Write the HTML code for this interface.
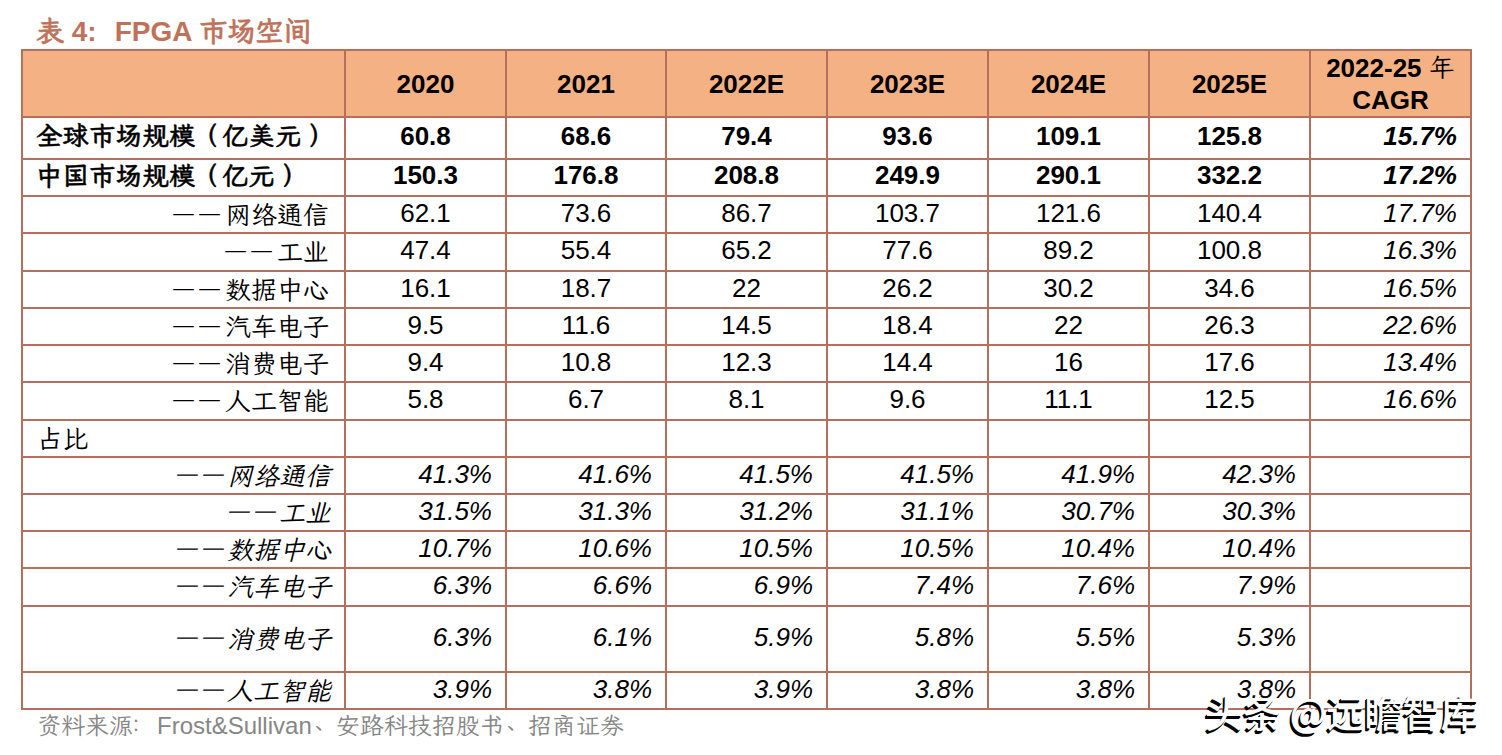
<!DOCTYPE html>
<html lang="zh-CN"><head><meta charset="utf-8"><title>表4 FPGA 市场空间</title>
<style>
html,body{margin:0;padding:0;background:#fff;}
body{width:1502px;height:755px;position:relative;overflow:hidden;}
.fill{position:absolute;background:#F4B183;}
.ln{position:absolute;background:#B4705C;}
.c{position:absolute;box-sizing:border-box;display:flex;align-items:center;white-space:nowrap;color:#000;line-height:1;}
.hb{font:bold 26px "Liberation Sans",Arial,sans-serif;}
.cg{display:block;text-align:center;line-height:32px;}
.kr{font-family:"LXGW WenKai TC","Noto Serif CJK SC",serif;font-weight:normal;}
.nb{font:bold 26px "Liberation Sans",Arial,sans-serif;}
.nbi{font:italic bold 26px "Liberation Sans",Arial,sans-serif;}
.n{font:26px "Liberation Sans",Arial,sans-serif;}
.ni{font:italic 26px "Liberation Sans",Arial,sans-serif;}
.kb{font:bold 26px "LXGW WenKai TC","Noto Serif CJK SC",serif;letter-spacing:0.6px;-webkit-text-stroke:0.5px #000;}
.k{font:26px "LXGW WenKai TC","Noto Serif CJK SC",serif;}
.ki{font:italic 26px "LXGW WenKai TC","Noto Serif CJK SC",serif;}
.title{position:absolute;left:36px;top:14px;font:bold 28px "Liberation Sans","LXGW WenKai TC","Noto Serif CJK SC",sans-serif;color:#C0715A;white-space:nowrap;line-height:34px;}
.title .k2{font-family:"LXGW WenKai TC","Noto Serif CJK SC",serif;-webkit-text-stroke:0.6px #C0715A;}
.lp{position:relative;left:-4px;}
.pc{position:relative;left:-9px;}
.pd{position:relative;left:-5px;top:3px;}
.dd{font-size:21px;letter-spacing:5px;position:relative;top:0px;}
.rp{position:relative;left:7px;}
.src{position:absolute;left:37px;top:709px;font:24px "Liberation Sans","LXGW WenKai TC","Noto Serif CJK SC",sans-serif;color:#868686;white-space:nowrap;line-height:32px;}
.src .k2{font-family:"LXGW WenKai TC","Noto Serif CJK SC",serif;}
.wm{position:absolute;left:1205px;top:689px;font:500 38px "Noto Sans CJK SC","Liberation Sans",sans-serif;color:#fff;white-space:nowrap;line-height:44px;text-shadow:-1px 2px 0 #000,-2px 3px 0 #000;}
</style></head><body>
<div class="title"><span class="k2">表</span> 4:<span style="display:inline-block;width:18px"></span>FPGA <span class="k2">市场空间</span></div>
<div class="fill" style="left:21px;top:49px;width:1451px;height:69px;"></div>
<div class="c hb" style="left:346px;top:52px;width:159px;height:65px;justify-content:center;">2020</div>
<div class="c hb" style="left:507px;top:52px;width:158px;height:65px;justify-content:center;">2021</div>
<div class="c hb" style="left:667px;top:52px;width:159px;height:65px;justify-content:center;">2022E</div>
<div class="c hb" style="left:828px;top:52px;width:159px;height:65px;justify-content:center;">2023E</div>
<div class="c hb" style="left:989px;top:52px;width:159px;height:65px;justify-content:center;">2024E</div>
<div class="c hb" style="left:1150px;top:52px;width:159px;height:65px;justify-content:center;">2025E</div>
<div class="c hb" style="left:1311px;top:51px;width:159px;height:65px;justify-content:center;"><span class="cg">2022-25 <span class="kr">年</span><br>CAGR</span></div>
<div class="c kb" style="left:23px;top:115px;width:321px;height:40px;justify-content:flex-start;padding-left:13px;">全球市场规模<span class="lp">（</span>亿美元<span class="rp">）</span></div>
<div class="c nb" style="left:346px;top:116px;width:159px;height:40px;justify-content:center;">60.8</div>
<div class="c nb" style="left:507px;top:116px;width:158px;height:40px;justify-content:center;">68.6</div>
<div class="c nb" style="left:667px;top:116px;width:159px;height:40px;justify-content:center;">79.4</div>
<div class="c nb" style="left:828px;top:116px;width:159px;height:40px;justify-content:center;">93.6</div>
<div class="c nb" style="left:989px;top:116px;width:159px;height:40px;justify-content:center;">109.1</div>
<div class="c nb" style="left:1150px;top:116px;width:159px;height:40px;justify-content:center;">125.8</div>
<div class="c nbi" style="left:1311px;top:116px;width:159px;height:40px;justify-content:flex-end;padding-right:13px;">15.7%</div>
<div class="c kb" style="left:23px;top:157px;width:321px;height:35px;justify-content:flex-start;padding-left:13px;">中国市场规模<span class="lp">（</span>亿元<span class="rp">）</span></div>
<div class="c nb" style="left:346px;top:158px;width:159px;height:35px;justify-content:center;">150.3</div>
<div class="c nb" style="left:507px;top:158px;width:158px;height:35px;justify-content:center;">176.8</div>
<div class="c nb" style="left:667px;top:158px;width:159px;height:35px;justify-content:center;">208.8</div>
<div class="c nb" style="left:828px;top:158px;width:159px;height:35px;justify-content:center;">249.9</div>
<div class="c nb" style="left:989px;top:158px;width:159px;height:35px;justify-content:center;">290.1</div>
<div class="c nb" style="left:1150px;top:158px;width:159px;height:35px;justify-content:center;">332.2</div>
<div class="c nbi" style="left:1311px;top:158px;width:159px;height:35px;justify-content:flex-end;padding-right:13px;">17.2%</div>
<div class="c k" style="left:23px;top:196px;width:321px;height:35px;justify-content:flex-end;padding-right:15px;"><span class="dd">——</span>网络通信</div>
<div class="c n" style="left:346px;top:195.5px;width:159px;height:35px;justify-content:center;">62.1</div>
<div class="c n" style="left:507px;top:195.5px;width:158px;height:35px;justify-content:center;">73.6</div>
<div class="c n" style="left:667px;top:195.5px;width:159px;height:35px;justify-content:center;">86.7</div>
<div class="c n" style="left:828px;top:195.5px;width:159px;height:35px;justify-content:center;">103.7</div>
<div class="c n" style="left:989px;top:195.5px;width:159px;height:35px;justify-content:center;">121.6</div>
<div class="c n" style="left:1150px;top:195.5px;width:159px;height:35px;justify-content:center;">140.4</div>
<div class="c ni" style="left:1311px;top:195.5px;width:159px;height:35px;justify-content:flex-end;padding-right:13px;">17.7%</div>
<div class="c k" style="left:23px;top:233px;width:321px;height:36px;justify-content:flex-end;padding-right:15px;"><span class="dd">——</span>工业</div>
<div class="c n" style="left:346px;top:232.5px;width:159px;height:36px;justify-content:center;">47.4</div>
<div class="c n" style="left:507px;top:232.5px;width:158px;height:36px;justify-content:center;">55.4</div>
<div class="c n" style="left:667px;top:232.5px;width:159px;height:36px;justify-content:center;">65.2</div>
<div class="c n" style="left:828px;top:232.5px;width:159px;height:36px;justify-content:center;">77.6</div>
<div class="c n" style="left:989px;top:232.5px;width:159px;height:36px;justify-content:center;">89.2</div>
<div class="c n" style="left:1150px;top:232.5px;width:159px;height:36px;justify-content:center;">100.8</div>
<div class="c ni" style="left:1311px;top:232.5px;width:159px;height:36px;justify-content:flex-end;padding-right:13px;">16.3%</div>
<div class="c k" style="left:23px;top:271px;width:321px;height:35px;justify-content:flex-end;padding-right:15px;"><span class="dd">——</span>数据中心</div>
<div class="c n" style="left:346px;top:270.5px;width:159px;height:35px;justify-content:center;">16.1</div>
<div class="c n" style="left:507px;top:270.5px;width:158px;height:35px;justify-content:center;">18.7</div>
<div class="c n" style="left:667px;top:270.5px;width:159px;height:35px;justify-content:center;">22</div>
<div class="c n" style="left:828px;top:270.5px;width:159px;height:35px;justify-content:center;">26.2</div>
<div class="c n" style="left:989px;top:270.5px;width:159px;height:35px;justify-content:center;">30.2</div>
<div class="c n" style="left:1150px;top:270.5px;width:159px;height:35px;justify-content:center;">34.6</div>
<div class="c ni" style="left:1311px;top:270.5px;width:159px;height:35px;justify-content:flex-end;padding-right:13px;">16.5%</div>
<div class="c k" style="left:23px;top:308px;width:321px;height:35px;justify-content:flex-end;padding-right:15px;"><span class="dd">——</span>汽车电子</div>
<div class="c n" style="left:346px;top:307.5px;width:159px;height:35px;justify-content:center;">9.5</div>
<div class="c n" style="left:507px;top:307.5px;width:158px;height:35px;justify-content:center;">11.6</div>
<div class="c n" style="left:667px;top:307.5px;width:159px;height:35px;justify-content:center;">14.5</div>
<div class="c n" style="left:828px;top:307.5px;width:159px;height:35px;justify-content:center;">18.4</div>
<div class="c n" style="left:989px;top:307.5px;width:159px;height:35px;justify-content:center;">22</div>
<div class="c n" style="left:1150px;top:307.5px;width:159px;height:35px;justify-content:center;">26.3</div>
<div class="c ni" style="left:1311px;top:307.5px;width:159px;height:35px;justify-content:flex-end;padding-right:13px;">22.6%</div>
<div class="c k" style="left:23px;top:345px;width:321px;height:35px;justify-content:flex-end;padding-right:15px;"><span class="dd">——</span>消费电子</div>
<div class="c n" style="left:346px;top:344.5px;width:159px;height:35px;justify-content:center;">9.4</div>
<div class="c n" style="left:507px;top:344.5px;width:158px;height:35px;justify-content:center;">10.8</div>
<div class="c n" style="left:667px;top:344.5px;width:159px;height:35px;justify-content:center;">12.3</div>
<div class="c n" style="left:828px;top:344.5px;width:159px;height:35px;justify-content:center;">14.4</div>
<div class="c n" style="left:989px;top:344.5px;width:159px;height:35px;justify-content:center;">16</div>
<div class="c n" style="left:1150px;top:344.5px;width:159px;height:35px;justify-content:center;">17.6</div>
<div class="c ni" style="left:1311px;top:344.5px;width:159px;height:35px;justify-content:flex-end;padding-right:13px;">13.4%</div>
<div class="c k" style="left:23px;top:382px;width:321px;height:36px;justify-content:flex-end;padding-right:15px;"><span class="dd">——</span>人工智能</div>
<div class="c n" style="left:346px;top:381.5px;width:159px;height:36px;justify-content:center;">5.8</div>
<div class="c n" style="left:507px;top:381.5px;width:158px;height:36px;justify-content:center;">6.7</div>
<div class="c n" style="left:667px;top:381.5px;width:159px;height:36px;justify-content:center;">8.1</div>
<div class="c n" style="left:828px;top:381.5px;width:159px;height:36px;justify-content:center;">9.6</div>
<div class="c n" style="left:989px;top:381.5px;width:159px;height:36px;justify-content:center;">11.1</div>
<div class="c n" style="left:1150px;top:381.5px;width:159px;height:36px;justify-content:center;">12.5</div>
<div class="c ni" style="left:1311px;top:381.5px;width:159px;height:36px;justify-content:flex-end;padding-right:13px;">16.6%</div>
<div class="c k" style="left:23px;top:420px;width:321px;height:35px;justify-content:flex-start;padding-left:13.5px;">占比</div>
<div class="c ki" style="left:23px;top:457px;width:321px;height:35px;justify-content:flex-end;padding-right:13px;"><span class="dd">——</span>网络通信</div>
<div class="c ni" style="left:346px;top:456.5px;width:159px;height:35px;justify-content:flex-end;padding-right:13px;">41.3%</div>
<div class="c ni" style="left:507px;top:456.5px;width:158px;height:35px;justify-content:flex-end;padding-right:13px;">41.6%</div>
<div class="c ni" style="left:667px;top:456.5px;width:159px;height:35px;justify-content:flex-end;padding-right:13px;">41.5%</div>
<div class="c ni" style="left:828px;top:456.5px;width:159px;height:35px;justify-content:flex-end;padding-right:13px;">41.5%</div>
<div class="c ni" style="left:989px;top:456.5px;width:159px;height:35px;justify-content:flex-end;padding-right:13px;">41.9%</div>
<div class="c ni" style="left:1150px;top:456.5px;width:159px;height:35px;justify-content:flex-end;padding-right:13px;">42.3%</div>
<div class="c ki" style="left:23px;top:494px;width:321px;height:35px;justify-content:flex-end;padding-right:13px;"><span class="dd">——</span>工业</div>
<div class="c ni" style="left:346px;top:493.5px;width:159px;height:35px;justify-content:flex-end;padding-right:13px;">31.5%</div>
<div class="c ni" style="left:507px;top:493.5px;width:158px;height:35px;justify-content:flex-end;padding-right:13px;">31.3%</div>
<div class="c ni" style="left:667px;top:493.5px;width:159px;height:35px;justify-content:flex-end;padding-right:13px;">31.2%</div>
<div class="c ni" style="left:828px;top:493.5px;width:159px;height:35px;justify-content:flex-end;padding-right:13px;">31.1%</div>
<div class="c ni" style="left:989px;top:493.5px;width:159px;height:35px;justify-content:flex-end;padding-right:13px;">30.7%</div>
<div class="c ni" style="left:1150px;top:493.5px;width:159px;height:35px;justify-content:flex-end;padding-right:13px;">30.3%</div>
<div class="c ki" style="left:23px;top:531px;width:321px;height:35px;justify-content:flex-end;padding-right:13px;"><span class="dd">——</span>数据中心</div>
<div class="c ni" style="left:346px;top:530.5px;width:159px;height:35px;justify-content:flex-end;padding-right:13px;">10.7%</div>
<div class="c ni" style="left:507px;top:530.5px;width:158px;height:35px;justify-content:flex-end;padding-right:13px;">10.6%</div>
<div class="c ni" style="left:667px;top:530.5px;width:159px;height:35px;justify-content:flex-end;padding-right:13px;">10.5%</div>
<div class="c ni" style="left:828px;top:530.5px;width:159px;height:35px;justify-content:flex-end;padding-right:13px;">10.5%</div>
<div class="c ni" style="left:989px;top:530.5px;width:159px;height:35px;justify-content:flex-end;padding-right:13px;">10.4%</div>
<div class="c ni" style="left:1150px;top:530.5px;width:159px;height:35px;justify-content:flex-end;padding-right:13px;">10.4%</div>
<div class="c ki" style="left:23px;top:568px;width:321px;height:36px;justify-content:flex-end;padding-right:13px;"><span class="dd">——</span>汽车电子</div>
<div class="c ni" style="left:346px;top:567.5px;width:159px;height:36px;justify-content:flex-end;padding-right:13px;">6.3%</div>
<div class="c ni" style="left:507px;top:567.5px;width:158px;height:36px;justify-content:flex-end;padding-right:13px;">6.6%</div>
<div class="c ni" style="left:667px;top:567.5px;width:159px;height:36px;justify-content:flex-end;padding-right:13px;">6.9%</div>
<div class="c ni" style="left:828px;top:567.5px;width:159px;height:36px;justify-content:flex-end;padding-right:13px;">7.4%</div>
<div class="c ni" style="left:989px;top:567.5px;width:159px;height:36px;justify-content:flex-end;padding-right:13px;">7.6%</div>
<div class="c ni" style="left:1150px;top:567.5px;width:159px;height:36px;justify-content:flex-end;padding-right:13px;">7.9%</div>
<div class="c ki" style="left:23px;top:606px;width:321px;height:64px;justify-content:flex-end;padding-right:13px;"><span class="dd">——</span>消费电子</div>
<div class="c ni" style="left:346px;top:605.5px;width:159px;height:64px;justify-content:flex-end;padding-right:13px;">6.3%</div>
<div class="c ni" style="left:507px;top:605.5px;width:158px;height:64px;justify-content:flex-end;padding-right:13px;">6.1%</div>
<div class="c ni" style="left:667px;top:605.5px;width:159px;height:64px;justify-content:flex-end;padding-right:13px;">5.9%</div>
<div class="c ni" style="left:828px;top:605.5px;width:159px;height:64px;justify-content:flex-end;padding-right:13px;">5.8%</div>
<div class="c ni" style="left:989px;top:605.5px;width:159px;height:64px;justify-content:flex-end;padding-right:13px;">5.5%</div>
<div class="c ni" style="left:1150px;top:605.5px;width:159px;height:64px;justify-content:flex-end;padding-right:13px;">5.3%</div>
<div class="c ki" style="left:23px;top:672px;width:321px;height:35px;justify-content:flex-end;padding-right:13px;"><span class="dd">——</span>人工智能</div>
<div class="c ni" style="left:346px;top:671.5px;width:159px;height:35px;justify-content:flex-end;padding-right:13px;">3.9%</div>
<div class="c ni" style="left:507px;top:671.5px;width:158px;height:35px;justify-content:flex-end;padding-right:13px;">3.8%</div>
<div class="c ni" style="left:667px;top:671.5px;width:159px;height:35px;justify-content:flex-end;padding-right:13px;">3.9%</div>
<div class="c ni" style="left:828px;top:671.5px;width:159px;height:35px;justify-content:flex-end;padding-right:13px;">3.8%</div>
<div class="c ni" style="left:989px;top:671.5px;width:159px;height:35px;justify-content:flex-end;padding-right:13px;">3.8%</div>
<div class="c ni" style="left:1150px;top:671.5px;width:159px;height:35px;justify-content:flex-end;padding-right:13px;">3.8%</div>
<div class="ln" style="left:21px;top:49px;width:1451px;height:2px;"></div>
<div class="ln" style="left:21px;top:116px;width:1451px;height:2px;"></div>
<div class="ln" style="left:21px;top:158px;width:1451px;height:2px;"></div>
<div class="ln" style="left:21px;top:195px;width:1451px;height:2px;"></div>
<div class="ln" style="left:21px;top:232px;width:1451px;height:2px;"></div>
<div class="ln" style="left:21px;top:270px;width:1451px;height:2px;"></div>
<div class="ln" style="left:21px;top:307px;width:1451px;height:2px;"></div>
<div class="ln" style="left:21px;top:344px;width:1451px;height:2px;"></div>
<div class="ln" style="left:21px;top:381px;width:1451px;height:2px;"></div>
<div class="ln" style="left:21px;top:419px;width:1451px;height:2px;"></div>
<div class="ln" style="left:21px;top:456px;width:1451px;height:2px;"></div>
<div class="ln" style="left:21px;top:493px;width:1451px;height:2px;"></div>
<div class="ln" style="left:21px;top:530px;width:1451px;height:2px;"></div>
<div class="ln" style="left:21px;top:567px;width:1451px;height:2px;"></div>
<div class="ln" style="left:21px;top:605px;width:1451px;height:2px;"></div>
<div class="ln" style="left:21px;top:671px;width:1451px;height:2px;"></div>
<div class="ln" style="left:21px;top:708px;width:1451px;height:2px;"></div>
<div class="ln" style="left:21px;top:49px;width:2px;height:661px;"></div>
<div class="ln" style="left:344px;top:49px;width:2px;height:661px;"></div>
<div class="ln" style="left:505px;top:49px;width:2px;height:661px;"></div>
<div class="ln" style="left:665px;top:49px;width:2px;height:661px;"></div>
<div class="ln" style="left:826px;top:49px;width:2px;height:661px;"></div>
<div class="ln" style="left:987px;top:49px;width:2px;height:661px;"></div>
<div class="ln" style="left:1148px;top:49px;width:2px;height:661px;"></div>
<div class="ln" style="left:1309px;top:49px;width:2px;height:661px;"></div>
<div class="ln" style="left:1470px;top:49px;width:2px;height:661px;"></div>
<div class="src"><span class="k2">资料来源<span class="pc">：</span></span>Frost&amp;Sullivan<span class="k2"><span class="pd">、</span>安路科技招股书<span class="pd">、</span>招商证券</span></div>
<div class="wm">头条 @远瞻智库</div>
</body></html>
